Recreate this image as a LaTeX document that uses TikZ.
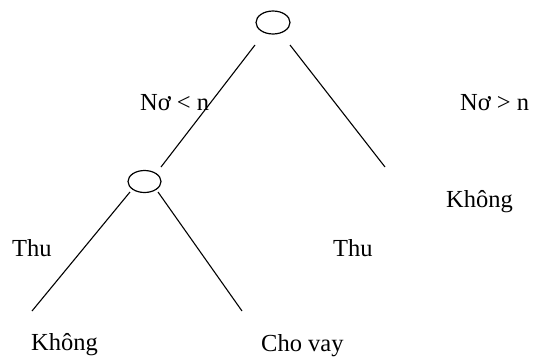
\documentclass[tikz,border=0pt]{standalone}
\usepackage{fontspec}
\setmainfont{Liberation Serif}
\usetikzlibrary{shapes.geometric}
\begin{document}
\begin{tikzpicture}[x=1pt,y=-1pt,
  oval/.style={draw,line width=1.2pt,ellipse,minimum width=34pt,minimum height=23pt,inner sep=0pt},
  edge/.style={line width=1.1pt},
  lbl/.style={anchor=base west,inner sep=0pt,font=\fontsize{24.5}{29}\selectfont}]
\useasboundingbox (0,0) rectangle (534,356);
\node[oval] (root) at (273,22.5) {};
\node[oval,minimum width=33pt,minimum height=22pt] (mid) at (144.5,181.5) {};
\coordinate (rl) at (255,45);
\coordinate (rr) at (290,45);
\coordinate (mt) at (161,167);
\coordinate (re) at (385,167);
\coordinate (ml) at (130,192);
\coordinate (mr) at (158,192);
\coordinate (ll) at (32,311);
\coordinate (lr) at (242,311);
\draw[edge] (rl) -- (mt);
\draw[edge] (rr) -- (re);
\draw[edge] (ml) -- (ll);
\draw[edge] (mr) -- (lr);
\node[lbl] (t1) at (140,110) {Nơ < n};
\node[lbl] (t2) at (460,110) {Nơ > n};
\node[lbl] (t3) at (446,207) {Không};
\node[lbl] (t4) at (12,256) {Thu};
\node[lbl] (t5) at (333,256) {Thu};
\node[lbl] (t6) at (31,350) {Không};
\node[lbl] (t7) at (261,351) {Cho vay};
\end{tikzpicture}
\end{document}
